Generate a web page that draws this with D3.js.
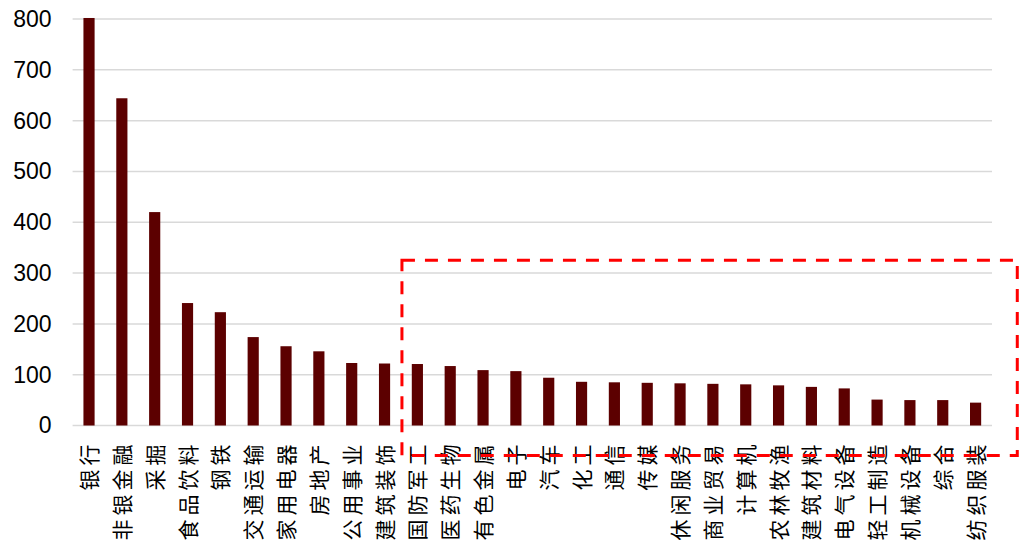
<!DOCTYPE html>
<html>
<head>
<meta charset="utf-8">
<script src="https://cdn.jsdelivr.net/npm/d3@7"></script>
<style>
  body { margin: 0; background: #fff; }
  svg { display: block; }
</style>
</head>
<body>
<svg id="chart"></svg>
<script>
// data
const categories = ['银行', '非银金融', '采掘', '食品饮料', '钢铁', '交通运输', '家用电器', '房地产', '公用事业', '建筑装饰',
    '国防军工', '医药生物', '有色金属', '电子', '汽车', '化工', '通信', '传媒', '休闲服务', '商业贸易',
    '计算机', '农林牧渔', '建筑材料', '电气设备', '轻工制造', '机械设备', '综合', '纺织服装'];
const values = [802, 644, 420, 241, 223, 174, 156, 146, 123, 122,
    121, 117, 109, 107, 94, 86, 85, 84, 83, 82,
    81, 79, 76, 73, 51, 50, 50, 45];
const yTicks = [0, 100, 200, 300, 400, 500, 600, 700, 800];
// highlighted group (red dashed box)
const highlightFrom = '国防军工';
const highlightTo = '纺织服装';
const highlightTop = 325;

const width = 1029;
const height = 550;
const margin = { top: 19, right: 37, bottom: 124.5, left: 72.6 };

const svg = d3.select('#chart')
    .attr('width', width)
    .attr('height', height);

const x = d3.scaleBand()
    .domain(categories)
    .range([margin.left, width - margin.right])
    .paddingInner(0.66)
    .paddingOuter(0.33);

const y = d3.scaleLinear()
    .domain([0, 800])
    .range([height - margin.bottom, margin.top]);

// gridlines
svg.append('g')
    .selectAll('line')
    .data(yTicks)
    .enter().append('line')
    .attr('x1', margin.left)
    .attr('x2', width - margin.right)
    .attr('y1', d => y(d))
    .attr('y2', d => y(d))
    .attr('stroke', '#D9D9D9')
    .attr('stroke-width', 1.5);

// y axis labels
const yAxis = svg.append('g')
    .attr('transform', `translate(${margin.left - 21}, 0)`)
    .call(d3.axisLeft(y).tickValues(yTicks).tickSize(0).tickPadding(0));
yAxis.select('.domain').remove();
yAxis.selectAll('text')
    .style('font-family', '"Liberation Sans", Arial, sans-serif')
    .style('font-size', '23px')
    .attr('fill', '#000');

// bars
svg.append('g')
    .selectAll('rect')
    .data(values)
    .enter().append('rect')
    .attr('x', (d, i) => x(categories[i]))
    .attr('y', d => y(d))
    .attr('width', x.bandwidth())
    .attr('height', d => y(0) - y(d))
    .attr('fill', '#5C0000');

// category labels, rotated
svg.append('g')
    .selectAll('text')
    .data(categories)
    .enter().append('text')
    .attr('transform', d => `translate(${x(d) + x.bandwidth() / 2 + 8}, ${y(0) + 15}) rotate(-90)`)
    .attr('text-anchor', 'end')
    .style('font-family', '"Noto Sans CJK SC", sans-serif')
    .style('font-size', '21px')
    .style('letter-spacing', '4px')
    .attr('fill', '#000')
    .text(d => d);

// red dashed highlight box
const step = x.step();
const boxLeft = x(highlightFrom) - step * 0.3;
const boxRight = x(highlightTo) + x.bandwidth() + step * 1.1;
svg.append('rect')
    .attr('x', boxLeft)
    .attr('y', y(highlightTop))
    .attr('width', boxRight - boxLeft)
    .attr('height', y(0) + 30 - y(highlightTop))
    .attr('fill', 'none')
    .attr('stroke', '#FF0000')
    .attr('stroke-width', 3)
    .attr('stroke-dasharray', '13,10');
</script>
</body>
</html>
